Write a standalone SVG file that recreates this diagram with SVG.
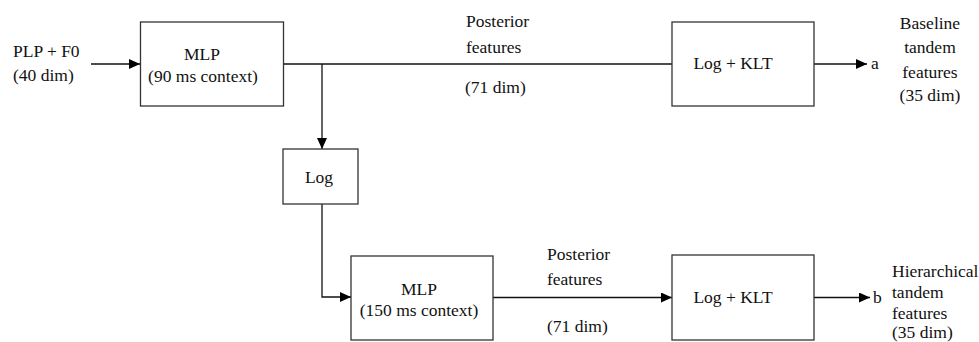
<svg xmlns="http://www.w3.org/2000/svg" width="979" height="342" viewBox="0 0 979 342" font-family="Liberation Serif, Times New Roman, serif" font-size="17.5">
<defs>
<style>
text{fill:#111}
.c{text-anchor:middle}
.box{fill:#fff;stroke:#333;stroke-width:1.3}
.ln{fill:none;stroke:#111;stroke-width:1.3}
</style>
<marker id="ah" viewBox="0 0 11 10" refX="11" refY="5" markerWidth="11" markerHeight="10" markerUnits="userSpaceOnUse" orient="auto">
<path d="M0,0 L11,5 L0,10 Z" fill="#000"/>
</marker>
</defs>
<rect width="979" height="342" fill="#fff"/>
<g id="connectors">
<line class="ln" x1="91" y1="64" x2="140" y2="64" marker-end="url(#ah)"/>
<line class="ln" x1="283" y1="64" x2="672" y2="64"/>
<line class="ln" x1="322" y1="64" x2="322" y2="149" marker-end="url(#ah)"/>
<polyline class="ln" points="322,204 322,297 351,297" marker-end="url(#ah)"/>
<line class="ln" x1="493" y1="297.5" x2="672" y2="297.5" marker-end="url(#ah)"/>
<line class="ln" x1="814" y1="64" x2="867" y2="64" marker-end="url(#ah)"/>
<line class="ln" x1="814" y1="297.5" x2="870" y2="297.5" marker-end="url(#ah)"/>
</g>
<g id="input">
<text x="13" y="57">PLP + F0</text>
<text x="13" y="81">(40 dim)</text>
</g>
<g id="mlp1">
<rect class="box" x="140.5" y="22" width="143" height="84"/>
<text class="c" x="202" y="60">MLP</text>
<text class="c" x="203" y="82">(90 ms context)</text>
</g>
<g id="post1">
<text x="466" y="27">Posterior</text>
<text x="466" y="53">features</text>
<text x="465" y="93">(71 dim)</text>
</g>
<g id="klt1">
<rect class="box" x="672" y="22" width="142" height="84"/>
<text class="c" x="733" y="69">Log + KLT</text>
</g>
<g id="outa">
<text x="871" y="69">a</text>
<text class="c" x="930" y="29">Baseline</text>
<text class="c" x="930" y="53">tandem</text>
<text class="c" x="930" y="78">features</text>
<text class="c" x="930" y="101">(35 dim)</text>
</g>
<g id="log">
<rect class="box" x="283" y="149" width="75" height="55"/>
<text class="c" x="319" y="183">Log</text>
</g>
<g id="mlp2">
<rect class="box" x="351" y="256" width="142" height="84"/>
<text class="c" x="419" y="295">MLP</text>
<text class="c" x="419" y="316">(150 ms context)</text>
</g>
<g id="post2">
<text x="547" y="260">Posterior</text>
<text x="547" y="285">features</text>
<text x="547" y="332">(71 dim)</text>
</g>
<g id="klt2">
<rect class="box" x="672" y="255" width="142" height="85"/>
<text class="c" x="733" y="303">Log + KLT</text>
</g>
<g id="outb">
<text x="873" y="303">b</text>
<text x="892" y="277">Hierarchical</text>
<text x="892" y="298">tandem</text>
<text x="892" y="319">features</text>
<text x="892" y="338">(35 dim)</text>
</g>
</svg>
